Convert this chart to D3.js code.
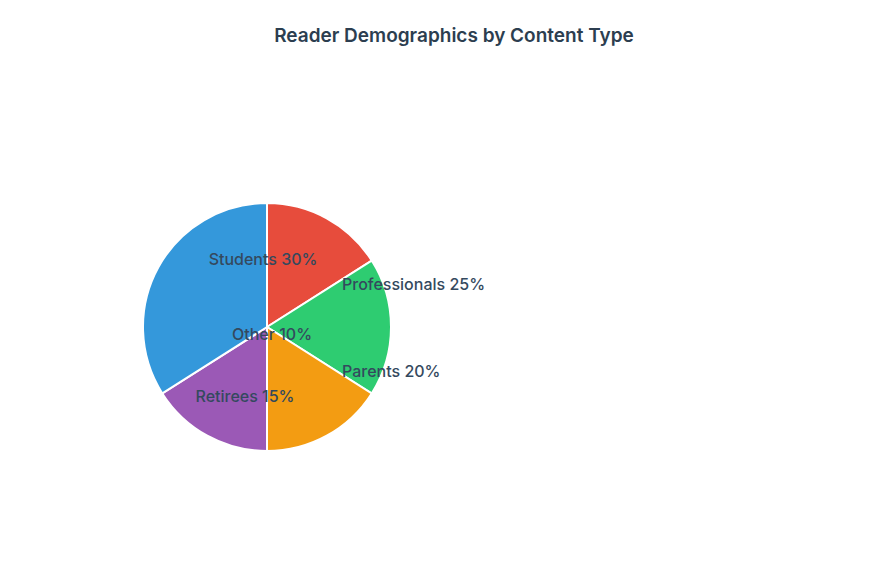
<!DOCTYPE html>
<html><head><meta charset="utf-8">
<script src="https://cdn.jsdelivr.net/npm/d3@7"></script>
<style>body{margin:0;background:#fff;font-family:Inter,Lato,sans-serif}</style>
</head><body><svg id="c" width="880" height="571"></svg>
<script>
const sliceValues = [16, 18, 16, 16, 34];
const sliceColors = ["#e74c3c", "#2ecc71", "#f39c12", "#9b59b6", "#3498db"];
const labelNames = ["Students", "Professionals", "Parents", "Retirees", "Other"];
const labelPercents = [30, 25, 20, 15, 10];
const labelOffsets = [[-4,-68,"middle"],[75,-43,"start"],[75,44,"start"],[-22,69,"middle"],[5,7,"middle"]];

const svg = d3.select("#c");
svg.append("text").attr("x",454).attr("y",42).attr("text-anchor","middle")
  .attr("font-size",19).attr("font-weight",600).attr("fill","#2c3e50")
  .text("Reader Demographics by Content Type");
const g = svg.append("g").attr("transform","translate(267,327)");
const pie = d3.pie().sort(null)(sliceValues);
const arc = d3.arc().innerRadius(0).outerRadius(124);
g.selectAll("path").data(pie).join("path").attr("d",arc)
  .attr("fill",(d,i)=>sliceColors[i]).attr("stroke","#fff").attr("stroke-width",2);
g.selectAll("text.l").data(labelNames).join("text").attr("class","l")
  .attr("x",(d,i)=>labelOffsets[i][0]).attr("y",(d,i)=>labelOffsets[i][1])
  .attr("dy","0.35em").attr("text-anchor",(d,i)=>labelOffsets[i][2])
  .attr("font-size",16).attr("font-weight",500).attr("fill","#34495e")
  .text((d,i)=>d+" "+labelPercents[i]+"%");
</script></body></html>
